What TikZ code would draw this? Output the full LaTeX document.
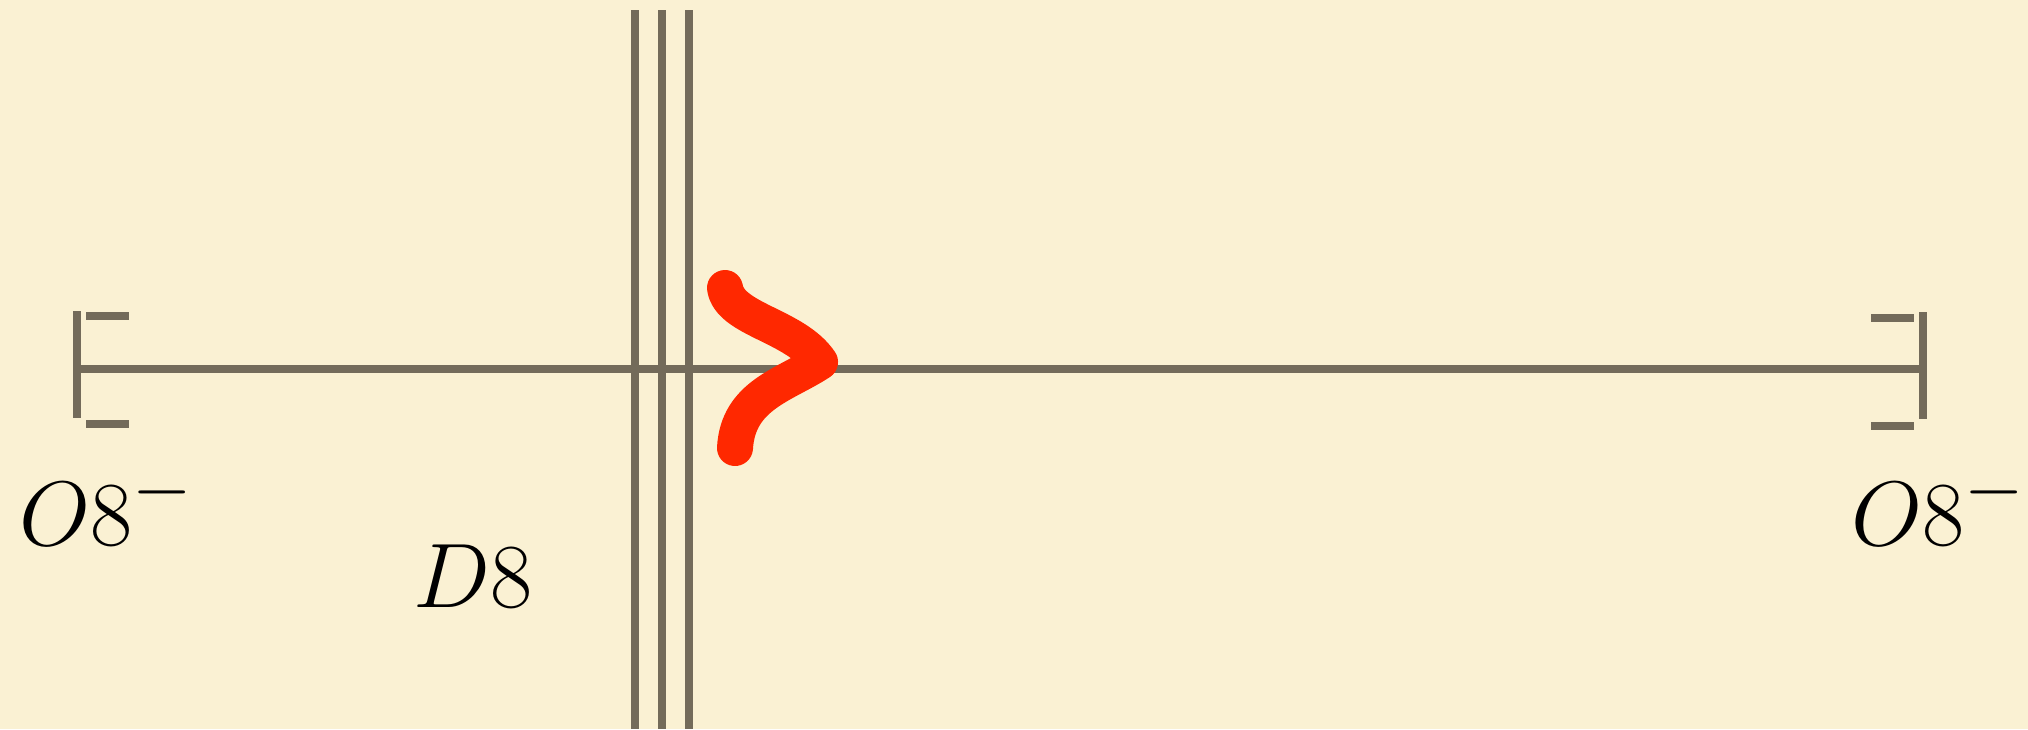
\documentclass[tikz,border=0pt]{standalone}
\definecolor{bg}{RGB}{250,241,211}
\definecolor{brane}{RGB}{115,107,90}
\definecolor{redflux}{RGB}{255,40,0}
\tikzset{
  brane/.style={draw=brane, line width=8pt},
  lab/.style={inner sep=0pt, anchor=base west, font=\Huge, scale=3.68},
  flux/.style={draw=redflux, line width=36pt, line cap=round, line join=round}
}
\begin{document}
\begin{tikzpicture}[x=1pt,y=-1pt]
\fill[bg] (0,0) rectangle (2028,729);
\useasboundingbox (0,0) rectangle (2028,729);
% orientifold ends
\coordinate (Lt) at (77,311);
\coordinate (Lb) at (77,418);
\coordinate (L) at (77,369);
\coordinate (Rt) at (1923,312);
\coordinate (Rb) at (1923,419);
\coordinate (R) at (1923,369);
\draw[brane] (Lt) -- (Lb);
\draw[brane] (Rt) -- (Rb);
\coordinate (Lut1) at (86,316); \coordinate (Lut2) at (129,316);
\coordinate (Lub1) at (86,424); \coordinate (Lub2) at (129,424);
\draw[brane] (Lut1) -- (Lut2);
\draw[brane] (Lub1) -- (Lub2);
\coordinate (Rut1) at (1871,318); \coordinate (Rut2) at (1914,318);
\coordinate (Rub1) at (1871,426); \coordinate (Rub2) at (1914,426);
\draw[brane] (Rut1) -- (Rut2);
\draw[brane] (Rub1) -- (Rub2);
\draw[brane] (L) -- (R);
% D8 branes
\foreach \x/\n in {635/a,662/b,689/c}{
  \coordinate (top\n) at (\x,10);
  \coordinate (bot\n) at (\x,729);
  \draw[brane] (top\n) -- (bot\n);
}
% red flux
\coordinate (f1) at (725,288);
\coordinate (ft) at (820,362);
\coordinate (f2) at (735,448);
\draw[flux] (f1) .. controls (730,320) and (795,325) .. (ft)
            .. controls (785,385) and (738,395) .. (f2);
% labels
\node[lab] (OL) at (19,545) {$O8^-$};
\node[lab] (OR) at (1851,545) {$O8^-$};
\node[lab] (D8) at (413,607) {$D8$};
\end{tikzpicture}
\end{document}
